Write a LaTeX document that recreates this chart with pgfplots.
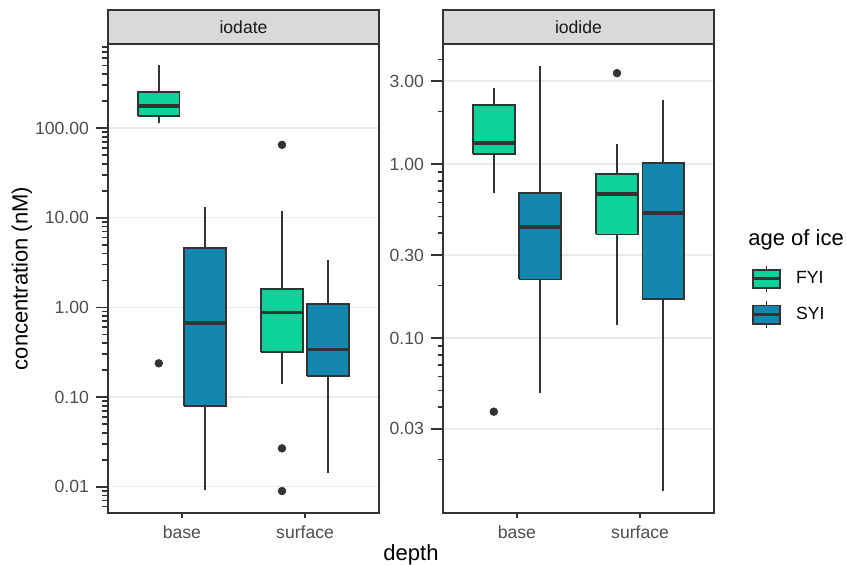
\documentclass[border=0pt]{standalone}
\usepackage{pgfplots}
\pgfplotsset{compat=1.18}
\usepackage{fontspec}
\setmainfont{Liberation Sans}

\definecolor{fyi}{HTML}{0DD39A}
\definecolor{syi}{HTML}{1487B1}
\definecolor{gray20}{HTML}{333333}
\definecolor{gray30}{HTML}{4D4D4D}
\definecolor{gray85}{HTML}{D9D9D9}
\definecolor{gray92}{HTML}{EBEBEB}

\pgfplotsset{
  panelaxis/.style={
    scale only axis, width=135.5pt, height=234.5pt,
    anchor=south west,
    xmin=0.4, xmax=2.6,
    xtick={1,2}, xticklabels={base,surface},
    xtick pos=left, ytick pos=left,
    tick align=outside,
    axis line style={draw=gray20, line width=0.9pt},
    tick style={draw=gray20, line width=0.8pt},
    major tick length=6pt, minor tick length=2.75pt,
    xtick style={/pgfplots/major tick length=2.75pt},
    ymajorgrids=true,
    major grid style={draw=gray92, line width=0.7pt},
    ticklabel style={font=\fontsize{8.8}{10}\selectfont, text=gray30},
    xticklabel style={yshift=3.25pt},
  },
  ln/.style={draw=gray20, line width=0.9pt, mark=none, forget plot},
  med/.style={draw=gray20, line width=1.8pt, mark=none, forget plot},
  dots/.style={only marks, mark=*, mark size=1.9pt, color=gray20, fill=gray20, forget plot},
}

% box: left x, centre x, right x, lower whisker, q1, median, q3, upper whisker, colour
\newcommand{\bx}[9]{%
  \addplot[ln] coordinates {(#2,#4) (#2,#5)};
  \addplot[ln] coordinates {(#2,#7) (#2,#8)};
  \addplot[ln, fill=#9] coordinates {(#1,#5) (#3,#5) (#3,#7) (#1,#7) (#1,#5)};
  \addplot[med] coordinates {(#1,#6) (#3,#6)};
}

\begin{document}
\begin{tikzpicture}
\useasboundingbox (0,0) rectangle (423.5pt,282.5pt);

% iodate
\begin{axis}[panelaxis, ymode=log, name=L, at={(54pt,26pt)},
  ymin=0.0051, ymax=865,
  ytick={0.01,0.1,1,10,100},
  yticklabels={0.01,0.10,1.00,10.00,100.00},
  minor ytick={0.006,0.007,0.008,0.009,0.02,0.03,0.04,0.05,0.06,0.07,0.08,0.09,
    0.2,0.3,0.4,0.5,0.6,0.7,0.8,0.9,2,3,4,5,6,7,8,9,
    20,30,40,50,60,70,80,90,200,300,400,500,600,700,800},
]
\bx{0.64375}{0.8125}{0.98125}{113}{136}{175}{254}{502}{fyi}
\bx{1.01875}{1.1875}{1.35625}{0.0091}{0.0794}{0.675}{4.63}{13.1}{syi}
\bx{1.64375}{1.8125}{1.98125}{0.141}{0.321}{0.873}{1.59}{12.0}{fyi}
\bx{2.01875}{2.1875}{2.35625}{0.0144}{0.171}{0.338}{1.10}{3.37}{syi}
\addplot[dots] coordinates {(0.8125,0.238) (1.8125,65) (1.8125,0.0268) (1.8125,0.00896)};
\end{axis}

% iodide
\begin{axis}[panelaxis, ymode=log, name=R, at={(221.5pt,26pt)},
  ymin=0.00986, ymax=4.9,
  ytick={0.03,0.1,0.3,1,3},
  yticklabels={0.03,0.10,0.30,1.00,3.00},
  minor ytick={0.02,0.04,0.05,0.06,0.07,0.08,0.09,0.2,0.4,0.5,0.6,0.7,0.8,0.9,2,4},
  legend style={draw=none, fill=none, inner sep=0pt, outer sep=0pt,
    at={(1.1391,0.5294)}, anchor=north west,
    row sep=3.7pt, nodes={inner sep=0pt, text=black},
    font=\fontsize{8.8}{10}\selectfont,
    /tikz/every odd column/.append style={column sep=7.35pt}},
  legend cell align=left,
]
\bx{0.64375}{0.8125}{0.98125}{0.684}{1.137}{1.326}{2.19}{2.73}{fyi}
\bx{1.01875}{1.1875}{1.35625}{0.0481}{0.217}{0.436}{0.678}{3.67}{syi}
\bx{1.64375}{1.8125}{1.98125}{0.119}{0.394}{0.675}{0.880}{1.31}{fyi}
\bx{2.01875}{2.1875}{2.35625}{0.0132}{0.167}{0.521}{1.01}{2.34}{syi}
\addplot[dots] coordinates {(0.8125,0.0377) (1.8125,3.33)};
\addlegendimage{legend image code/.code={
    \draw[gray20, line width=0.9pt] (6.65pt,-6.65pt) -- (6.65pt,6.65pt);
    \draw[fill=fyi, draw=gray20, line width=0.9pt] (0pt,-4.6pt) rectangle (13.3pt,4.6pt);
    \draw[gray20, line width=1.6pt] (0pt,0pt) -- (13.3pt,0pt);}}
\addlegendentry{FYI}
\addlegendimage{legend image code/.code={
    \draw[gray20, line width=0.9pt] (6.65pt,-6.65pt) -- (6.65pt,6.65pt);
    \draw[fill=syi, draw=gray20, line width=0.9pt] (0pt,-4.6pt) rectangle (13.3pt,4.6pt);
    \draw[gray20, line width=1.6pt] (0pt,0pt) -- (13.3pt,0pt);}}
\addlegendentry{SYI}
\end{axis}

% facet strips
\draw[fill=gray85, draw=gray20, line width=0.9pt] (L.north west) rectangle ([yshift=17pt]L.north east);
\draw[fill=gray85, draw=gray20, line width=0.9pt] (R.north west) rectangle ([yshift=17pt]R.north east);
\node[text=black!90, font=\fontsize{8.8}{10}\selectfont] at ([yshift=8.5pt]L.north) {iodate};
\node[text=black!90, font=\fontsize{8.8}{10}\selectfont] at ([yshift=8.5pt]R.north) {iodide};

% axis titles
\node[rotate=90, font=\fontsize{11}{13}\selectfont] at (11pt,143.25pt) {concentration (nM)};
\node[anchor=base, font=\fontsize{11}{13}\selectfont] at (205.5pt,2pt) {depth};
\node[anchor=base west, inner sep=0pt, font=\fontsize{11}{13}\selectfont] at (374pt,159.5pt) {age of ice};
\end{tikzpicture}
\end{document}
